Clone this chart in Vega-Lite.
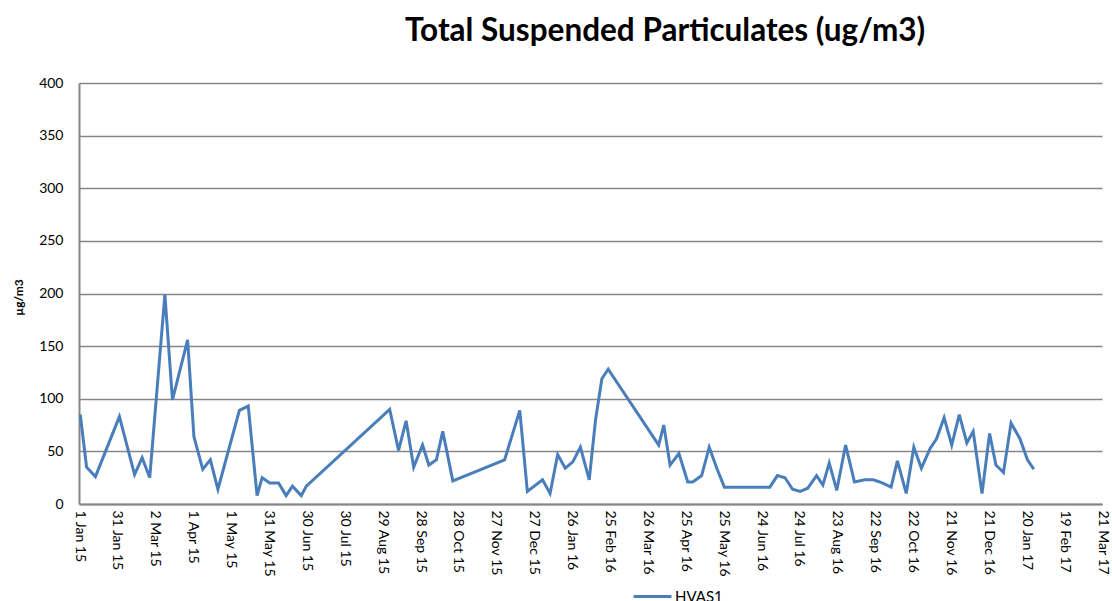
{
  "$schema": "https://vega.github.io/schema/vega-lite/v6.json",
  "width": 1023,
  "height": 421,
  "autosize": {"type": "none"},
  "padding": {"left": 79, "top": 83, "right": 10, "bottom": 97},
  "background": "white",
  "title": {
    "text": "Total Suspended Particulates (ug/m3)",
    "font": "Lato",
    "fontSize": 31.5,
    "fontWeight": "bold",
    "color": "#000000",
    "anchor": "start",
    "dx": 393,
    "offset": 29
  },
  "data": {
    "values": [
      {"date": "2015-01-02", "tsp": 85, "series": "HVAS1"},
      {"date": "2015-01-07", "tsp": 35, "series": "HVAS1"},
      {"date": "2015-01-14", "tsp": 26, "series": "HVAS1"},
      {"date": "2015-02-02", "tsp": 83, "series": "HVAS1"},
      {"date": "2015-02-14", "tsp": 28, "series": "HVAS1"},
      {"date": "2015-02-20", "tsp": 44, "series": "HVAS1"},
      {"date": "2015-02-26", "tsp": 25, "series": "HVAS1"},
      {"date": "2015-03-10", "tsp": 199, "series": "HVAS1"},
      {"date": "2015-03-16", "tsp": 99, "series": "HVAS1"},
      {"date": "2015-03-28", "tsp": 156, "series": "HVAS1"},
      {"date": "2015-04-02", "tsp": 64, "series": "HVAS1"},
      {"date": "2015-04-09", "tsp": 33, "series": "HVAS1"},
      {"date": "2015-04-15", "tsp": 42, "series": "HVAS1"},
      {"date": "2015-04-21", "tsp": 14, "series": "HVAS1"},
      {"date": "2015-05-08", "tsp": 89, "series": "HVAS1"},
      {"date": "2015-05-15", "tsp": 93, "series": "HVAS1"},
      {"date": "2015-05-22", "tsp": 8, "series": "HVAS1"},
      {"date": "2015-05-26", "tsp": 25, "series": "HVAS1"},
      {"date": "2015-06-01", "tsp": 20, "series": "HVAS1"},
      {"date": "2015-06-08", "tsp": 20, "series": "HVAS1"},
      {"date": "2015-06-14", "tsp": 8, "series": "HVAS1"},
      {"date": "2015-06-19", "tsp": 17, "series": "HVAS1"},
      {"date": "2015-06-26", "tsp": 8, "series": "HVAS1"},
      {"date": "2015-06-30", "tsp": 17, "series": "HVAS1"},
      {"date": "2015-09-04", "tsp": 90, "series": "HVAS1"},
      {"date": "2015-09-11", "tsp": 51, "series": "HVAS1"},
      {"date": "2015-09-17", "tsp": 79, "series": "HVAS1"},
      {"date": "2015-09-23", "tsp": 35, "series": "HVAS1"},
      {"date": "2015-09-30", "tsp": 56, "series": "HVAS1"},
      {"date": "2015-10-05", "tsp": 37, "series": "HVAS1"},
      {"date": "2015-10-11", "tsp": 42, "series": "HVAS1"},
      {"date": "2015-10-16", "tsp": 69, "series": "HVAS1"},
      {"date": "2015-10-24", "tsp": 22, "series": "HVAS1"},
      {"date": "2015-12-04", "tsp": 42, "series": "HVAS1"},
      {"date": "2015-12-16", "tsp": 89, "series": "HVAS1"},
      {"date": "2015-12-22", "tsp": 12, "series": "HVAS1"},
      {"date": "2016-01-03", "tsp": 23, "series": "HVAS1"},
      {"date": "2016-01-09", "tsp": 10, "series": "HVAS1"},
      {"date": "2016-01-15", "tsp": 47, "series": "HVAS1"},
      {"date": "2016-01-21", "tsp": 34, "series": "HVAS1"},
      {"date": "2016-01-27", "tsp": 40, "series": "HVAS1"},
      {"date": "2016-02-02", "tsp": 54, "series": "HVAS1"},
      {"date": "2016-02-09", "tsp": 23, "series": "HVAS1"},
      {"date": "2016-02-14", "tsp": 80, "series": "HVAS1"},
      {"date": "2016-02-19", "tsp": 119, "series": "HVAS1"},
      {"date": "2016-02-24", "tsp": 128, "series": "HVAS1"},
      {"date": "2016-04-04", "tsp": 56, "series": "HVAS1"},
      {"date": "2016-04-08", "tsp": 75, "series": "HVAS1"},
      {"date": "2016-04-13", "tsp": 37, "series": "HVAS1"},
      {"date": "2016-04-20", "tsp": 48, "series": "HVAS1"},
      {"date": "2016-04-27", "tsp": 21, "series": "HVAS1"},
      {"date": "2016-05-01", "tsp": 21, "series": "HVAS1"},
      {"date": "2016-05-08", "tsp": 27, "series": "HVAS1"},
      {"date": "2016-05-14", "tsp": 54, "series": "HVAS1"},
      {"date": "2016-05-20", "tsp": 34, "series": "HVAS1"},
      {"date": "2016-05-26", "tsp": 16, "series": "HVAS1"},
      {"date": "2016-07-01", "tsp": 16, "series": "HVAS1"},
      {"date": "2016-07-07", "tsp": 27, "series": "HVAS1"},
      {"date": "2016-07-13", "tsp": 25, "series": "HVAS1"},
      {"date": "2016-07-19", "tsp": 14, "series": "HVAS1"},
      {"date": "2016-07-25", "tsp": 12, "series": "HVAS1"},
      {"date": "2016-07-31", "tsp": 15, "series": "HVAS1"},
      {"date": "2016-08-07", "tsp": 27, "series": "HVAS1"},
      {"date": "2016-08-12", "tsp": 18, "series": "HVAS1"},
      {"date": "2016-08-17", "tsp": 39, "series": "HVAS1"},
      {"date": "2016-08-23", "tsp": 13, "series": "HVAS1"},
      {"date": "2016-08-30", "tsp": 56, "series": "HVAS1"},
      {"date": "2016-09-06", "tsp": 21, "series": "HVAS1"},
      {"date": "2016-09-14", "tsp": 23, "series": "HVAS1"},
      {"date": "2016-09-21", "tsp": 23, "series": "HVAS1"},
      {"date": "2016-09-28", "tsp": 20, "series": "HVAS1"},
      {"date": "2016-10-05", "tsp": 16, "series": "HVAS1"},
      {"date": "2016-10-10", "tsp": 41, "series": "HVAS1"},
      {"date": "2016-10-17", "tsp": 10, "series": "HVAS1"},
      {"date": "2016-10-23", "tsp": 54, "series": "HVAS1"},
      {"date": "2016-10-29", "tsp": 34, "series": "HVAS1"},
      {"date": "2016-11-05", "tsp": 53, "series": "HVAS1"},
      {"date": "2016-11-10", "tsp": 62, "series": "HVAS1"},
      {"date": "2016-11-16", "tsp": 82, "series": "HVAS1"},
      {"date": "2016-11-22", "tsp": 56, "series": "HVAS1"},
      {"date": "2016-11-28", "tsp": 85, "series": "HVAS1"},
      {"date": "2016-12-04", "tsp": 58, "series": "HVAS1"},
      {"date": "2016-12-09", "tsp": 69, "series": "HVAS1"},
      {"date": "2016-12-16", "tsp": 10, "series": "HVAS1"},
      {"date": "2016-12-22", "tsp": 67, "series": "HVAS1"},
      {"date": "2016-12-27", "tsp": 37, "series": "HVAS1"},
      {"date": "2017-01-02", "tsp": 30, "series": "HVAS1"},
      {"date": "2017-01-08", "tsp": 77, "series": "HVAS1"},
      {"date": "2017-01-15", "tsp": 62, "series": "HVAS1"},
      {"date": "2017-01-21", "tsp": 42, "series": "HVAS1"},
      {"date": "2017-01-26", "tsp": 33, "series": "HVAS1"}
    ]
  },
  "mark": {"type": "line", "strokeWidth": 3, "interpolate": "linear"},
  "encoding": {
    "x": {
      "field": "date",
      "type": "temporal",
      "scale": {
        "type": "utc",
        "domain": [
          {"year": 2015, "month": 1, "date": 1, "utc": true},
          {"year": 2017, "month": 3, "date": 21, "utc": true}
        ],
        "nice": false
      },
      "axis": {
        "title": null,
        "format": "%-d %b %y",
        "values": [
          {"year": 2015, "month": 1, "date": 1, "utc": true},
          {"year": 2015, "month": 1, "date": 31, "utc": true},
          {"year": 2015, "month": 3, "date": 2, "utc": true},
          {"year": 2015, "month": 4, "date": 1, "utc": true},
          {"year": 2015, "month": 5, "date": 1, "utc": true},
          {"year": 2015, "month": 5, "date": 31, "utc": true},
          {"year": 2015, "month": 6, "date": 30, "utc": true},
          {"year": 2015, "month": 7, "date": 30, "utc": true},
          {"year": 2015, "month": 8, "date": 29, "utc": true},
          {"year": 2015, "month": 9, "date": 28, "utc": true},
          {"year": 2015, "month": 10, "date": 28, "utc": true},
          {"year": 2015, "month": 11, "date": 27, "utc": true},
          {"year": 2015, "month": 12, "date": 27, "utc": true},
          {"year": 2016, "month": 1, "date": 26, "utc": true},
          {"year": 2016, "month": 2, "date": 25, "utc": true},
          {"year": 2016, "month": 3, "date": 26, "utc": true},
          {"year": 2016, "month": 4, "date": 25, "utc": true},
          {"year": 2016, "month": 5, "date": 25, "utc": true},
          {"year": 2016, "month": 6, "date": 24, "utc": true},
          {"year": 2016, "month": 7, "date": 24, "utc": true},
          {"year": 2016, "month": 8, "date": 23, "utc": true},
          {"year": 2016, "month": 9, "date": 22, "utc": true},
          {"year": 2016, "month": 10, "date": 22, "utc": true},
          {"year": 2016, "month": 11, "date": 21, "utc": true},
          {"year": 2016, "month": 12, "date": 21, "utc": true},
          {"year": 2017, "month": 1, "date": 20, "utc": true},
          {"year": 2017, "month": 2, "date": 19, "utc": true},
          {"year": 2017, "month": 3, "date": 21, "utc": true}
        ],
        "labelAngle": 90,
        "labelAlign": "left",
        "labelBaseline": "middle",
        "labelFont": "Lato",
        "labelFontSize": 14,
        "labelColor": "#000000",
        "labelPadding": 6,
        "labelOverlap": false,
        "labelFlush": false,
        "labelBound": false,
        "grid": false,
        "ticks": false,
        "domainColor": "#868686",
        "domainWidth": 2
      }
    },
    "y": {
      "field": "tsp",
      "type": "quantitative",
      "scale": {"domain": [0, 400], "nice": false},
      "axis": {
        "title": "µg/m3",
        "titleFont": "Lato",
        "titleFontSize": 12,
        "titleFontWeight": "bold",
        "titleColor": "#000000",
        "titleAngle": -90,
        "titleX": -61,
        "titleY": 214,
        "titleAlign": "center",
        "titleBaseline": "middle",
        "values": [0, 50, 100, 150, 200, 250, 300, 350, 400],
        "labelFont": "Lato",
        "labelFontSize": 14,
        "labelColor": "#000000",
        "labelPadding": 16,
        "ticks": false,
        "grid": true,
        "gridColor": "#868686",
        "gridWidth": 1.5,
        "domainColor": "#868686",
        "domainWidth": 2
      }
    },
    "color": {
      "field": "series",
      "type": "nominal",
      "scale": {"range": ["#4a7ebb"]},
      "legend": {
        "title": null,
        "orient": "none",
        "legendX": 553,
        "legendY": 493,
        "padding": 0,
        "symbolType": "stroke",
        "symbolSize": 1444,
        "symbolStrokeWidth": 3,
        "symbolStrokeColor": "#4a7ebb",
        "labelFont": "Lato",
        "labelFontSize": 15,
        "labelColor": "#000000",
        "labelOffset": 2
      }
    }
  },
  "config": {"view": {"stroke": null}}
}
